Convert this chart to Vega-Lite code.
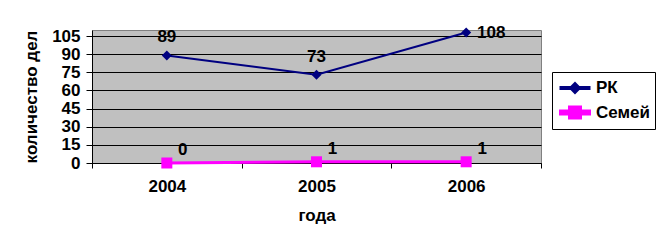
{
  "$schema": "https://vega.github.io/schema/vega-lite/v6.json",
  "width": 449,
  "height": 133,
  "autosize": {"type": "none"},
  "padding": {"left": 92, "top": 30, "right": 122, "bottom": 88},
  "background": "white",
  "config": {
    "font": "Liberation Sans",
    "view": {"fill": "#C0C0C0", "stroke": "#808080", "strokeWidth": 1},
    "axis": {
      "labelFont": "Liberation Sans",
      "labelFontWeight": "bold",
      "labelFontSize": 17,
      "labelColor": "black",
      "titleFont": "Liberation Sans",
      "titleFontWeight": "bold",
      "titleFontSize": 17,
      "titleColor": "black",
      "domainColor": "black",
      "tickColor": "black",
      "gridColor": "black",
      "gridOpacity": 1
    },
    "legend": {
      "orient": "none",
      "legendX": 460,
      "legendY": 42,
      "strokeColor": "black",
      "fillColor": "white",
      "padding": 5,
      "rowPadding": 4,
      "symbolSize": 400,
      "symbolStrokeWidth": 0,
      "labelOffset": 16,
      "labelFont": "Liberation Sans",
      "labelFontWeight": "bold",
      "labelFontSize": 17,
      "labelColor": "black"
    }
  },
  "data": {
    "values": [
      {"year": "2004", "series": "РК", "value": 89},
      {"year": "2005", "series": "РК", "value": 73},
      {"year": "2006", "series": "РК", "value": 108},
      {"year": "2004", "series": "Семей", "value": 0},
      {"year": "2005", "series": "Семей", "value": 1},
      {"year": "2006", "series": "Семей", "value": 1}
    ]
  },
  "encoding": {
    "x": {
      "field": "year",
      "type": "ordinal",
      "scale": {"type": "band", "paddingInner": 0, "paddingOuter": 0},
      "axis": {"title": "года", "labelAngle": 0, "tickBand": "extent", "tickSize": 5, "labelPadding": 10, "titlePadding": 13, "grid": false, "domainWidth": 1}
    },
    "y": {
      "field": "value",
      "type": "quantitative",
      "scale": {"domain": [0, 110], "nice": false},
      "axis": {"title": "количество дел", "values": [0, 15, 30, 45, 60, 75, 90, 105], "tickSize": 6, "labelPadding": 6, "titlePadding": 11, "grid": true}
    }
  },
  "layer": [
    {
      "mark": {"type": "line"},
      "encoding": {
        "color": {
          "field": "series",
          "type": "nominal",
          "scale": {"domain": ["РК", "Семей"], "range": ["#000080", "#FF00FF"]},
          "legend": {"title": null}
        },
        "strokeWidth": {
          "field": "series",
          "type": "nominal",
          "scale": {"domain": ["РК", "Семей"], "range": [2, 3]},
          "legend": null
        }
      }
    },
    {
      "transform": [{"filter": "datum.series === 'РК'"}],
      "mark": {"type": "point", "filled": true, "opacity": 1, "shape": "diamond", "size": 100},
      "encoding": {
        "color": {"field": "series", "type": "nominal", "legend": {"title": null}}
      }
    },
    {
      "transform": [{"filter": "datum.series === 'Семей'"}],
      "mark": {"type": "point", "filled": true, "opacity": 1, "shape": "square", "size": 121},
      "encoding": {
        "color": {"field": "series", "type": "nominal", "legend": {"title": null}}
      }
    },
    {
      "transform": [{"filter": "false"}],
      "mark": {"type": "point", "filled": true, "opacity": 1, "size": 400},
      "encoding": {
        "color": {"field": "series", "type": "nominal", "legend": {"title": null}},
        "shape": {
          "field": "series",
          "type": "nominal",
          "scale": {"domain": ["РК", "Семей"], "range": ["M-0.8,-0.1L2.1,-0.1L2.1,0.1L-0.8,0.1ZM0.15,0L0.65,-0.5L1.15,0L0.65,0.5Z", "M-0.8,-0.15L2.1,-0.15L2.1,0.15L-0.8,0.15ZM0.1,-0.55L1.2,-0.55L1.2,0.55L0.1,0.55Z"]},
          "legend": {"title": null}
        }
      }
    },
    {
      "transform": [{"filter": "datum.series === 'РК' && datum.year !== '2006'"}],
      "mark": {"type": "text", "dy": -18, "font": "Liberation Sans", "fontWeight": "bold", "fontSize": 17, "color": "black"},
      "encoding": {"text": {"field": "value", "type": "quantitative"}}
    },
    {
      "transform": [{"filter": "datum.series === 'РК' && datum.year === '2006'"}],
      "mark": {"type": "text", "dx": 25, "dy": 1, "font": "Liberation Sans", "fontWeight": "bold", "fontSize": 17, "color": "black"},
      "encoding": {"text": {"field": "value", "type": "quantitative"}}
    },
    {
      "transform": [{"filter": "datum.series === 'Семей'"}],
      "mark": {"type": "text", "dx": 16, "dy": -13, "font": "Liberation Sans", "fontWeight": "bold", "fontSize": 17, "color": "black"},
      "encoding": {"text": {"field": "value", "type": "quantitative"}}
    }
  ]
}
